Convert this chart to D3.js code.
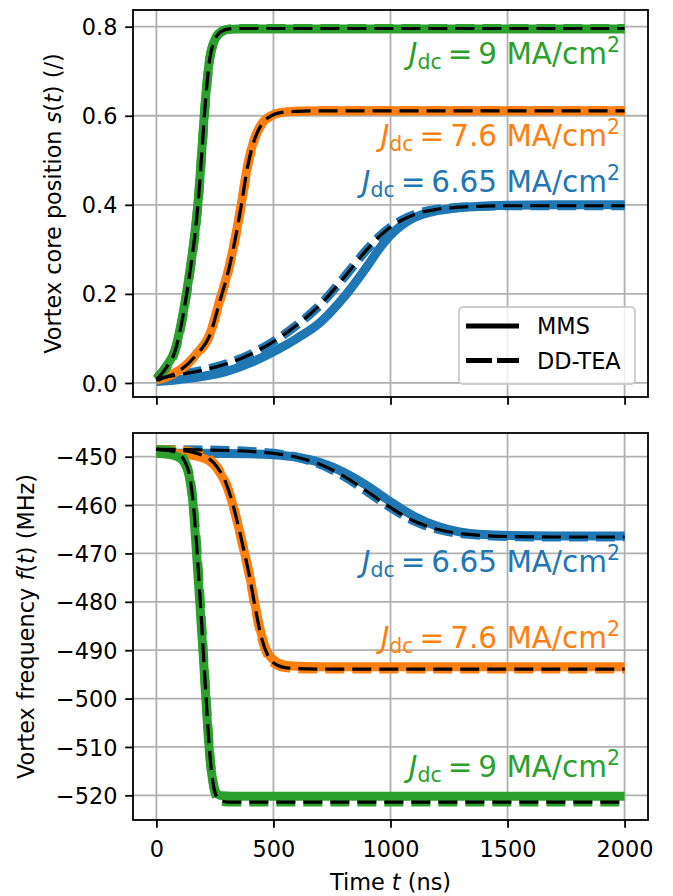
<!DOCTYPE html>
<html><head><meta charset="utf-8">
<script src="https://cdn.jsdelivr.net/npm/d3@7"></script>
<style>body{margin:0;background:#fff} svg{display:block} text{font-family:"DejaVu Sans",sans-serif}</style>
</head><body><svg id="c" width="673" height="896"></svg>
<script>
// ---------- data ----------
const xTicks = [0, 500, 1000, 1500, 2000];
const yTicksTop = [0.0, 0.2, 0.4, 0.6, 0.8];
const yTicksBot = [-450, -460, -470, -480, -490, -500, -510, -520];

const seriesNames = ["6.65", "7.6", "9"];
const seriesColors = ["#1f77b4", "#ff7f0e", "#2ca02c"];

// top panel: s(t)
const tGreenTop = [0, 40, 80, 115, 145, 165, 180, 195, 210, 228, 245, 260, 280, 310, 350, 450, 2000];
const sGreenMMS = [0.010, 0.036, 0.075, 0.160, 0.260, 0.340, 0.420, 0.530, 0.640, 0.730, 0.765, 0.780, 0.789, 0.794, 0.795, 0.795, 0.795];
const sGreenDD  = [0.008, 0.033, 0.072, 0.155, 0.255, 0.335, 0.415, 0.525, 0.635, 0.728, 0.765, 0.781, 0.790, 0.795, 0.796, 0.796, 0.796];

const tOrangeTop = [0, 50, 100, 170, 230, 270, 310, 340, 365, 390, 420, 450, 490, 530, 600, 700, 2000];
const sOrangeMMS = [0.007, 0.016, 0.029, 0.065, 0.112, 0.185, 0.260, 0.335, 0.410, 0.490, 0.550, 0.582, 0.600, 0.607, 0.610, 0.611, 0.611];
const sOrangeDD  = [0.006, 0.015, 0.028, 0.063, 0.110, 0.182, 0.257, 0.332, 0.407, 0.487, 0.548, 0.581, 0.600, 0.607, 0.610, 0.611, 0.611];

const tBlueTop = [0, 100, 200, 300, 400, 500, 600, 700, 800, 900, 950, 1000, 1050, 1100, 1200, 1300, 1400, 1500, 1700, 2000];
const sBlueMMS = [0.003, 0.008, 0.015, 0.026, 0.045, 0.070, 0.100, 0.136, 0.192, 0.262, 0.300, 0.332, 0.355, 0.371, 0.387, 0.394, 0.397, 0.399, 0.400, 0.400];
const sBlueDD  = [0.010, 0.019, 0.029, 0.043, 0.064, 0.093, 0.130, 0.176, 0.236, 0.300, 0.328, 0.350, 0.366, 0.378, 0.390, 0.395, 0.397, 0.398, 0.398, 0.398];

// bottom panel: f(t) in MHz
const tGreenBot = [0, 50, 90, 120, 140, 155, 170, 185, 200, 215, 230, 245, 260, 280, 320, 2000];
const fGreenMMS = [-449.3, -449.5, -450.0, -451.3, -454.0, -459.0, -469.0, -480.0, -491.0, -503.0, -513.0, -518.0, -519.7, -520.1, -520.2, -520.2];
const fGreenDD  = [-448.5, -448.7, -449.3, -450.8, -453.5, -458.5, -467.0, -478.0, -490.0, -502.0, -512.5, -518.3, -520.5, -521.2, -521.4, -521.4];

const tOrangeBot = [0, 100, 150, 200, 230, 260, 300, 335, 370, 400, 425, 450, 475, 500, 550, 600, 700, 2000];
const fOrangeMMS = [-449.3, -449.4, -449.7, -450.3, -451.0, -452.5, -456.0, -461.5, -468.5, -475.0, -481.5, -487.0, -490.5, -492.0, -493.1, -493.3, -493.4, -493.4];
const fOrangeDD  = [-448.5, -448.7, -449.0, -449.8, -450.6, -452.2, -455.8, -461.4, -468.6, -475.3, -482.0, -487.6, -491.0, -492.6, -493.6, -493.8, -493.9, -493.9];

const tBlueBot = [0, 200, 400, 500, 600, 700, 800, 900, 1000, 1100, 1200, 1300, 1400, 1500, 1700, 2000];
const fBlueMMS = [-449.3, -449.3, -449.4, -449.6, -450.1, -451.2, -453.2, -456.0, -459.3, -462.3, -464.4, -465.6, -466.1, -466.3, -466.4, -466.4];
const fBlueDD  = [-448.5, -448.6, -448.9, -449.3, -450.1, -451.6, -454.0, -457.2, -460.5, -463.3, -465.0, -465.9, -466.3, -466.5, -466.6, -466.6];

// ---------- drawing ----------
const svg = d3.select("#c");
const X0 = 133, X1 = 648;
const x = d3.scaleLinear().domain([-100, 2100]).range([X0, X1]);
const panels = [
  {top: 10, bottom: 397, y: d3.scaleLinear().domain([-0.0315, 0.8375]).range([397, 10]),
   ticks: yTicksTop, fmt: d3.format(".1f"), xlabels: false,
   series: [
     {t: tBlueTop, mms: sBlueMMS, dd: sBlueDD, c: 0},
     {t: tOrangeTop, mms: sOrangeMMS, dd: sOrangeDD, c: 1},
     {t: tGreenTop, mms: sGreenMMS, dd: sGreenDD, c: 2}
   ],
   labels: [{c: 2, yb: 64}, {c: 1, yb: 146}, {c: 0, yb: 192}],
   ylabel: [{t: "Vortex core position "}, {t: "s", i: 1}, {t: "("}, {t: "t", i: 1}, {t: ") (/)"}], ylx: 61},
  {top: 433, bottom: 820, y: d3.scaleLinear().domain([-525.1, -445.1]).range([820, 433]),
   ticks: yTicksBot, fmt: d => "\u2212" + Math.abs(d), xlabels: true,
   series: [
     {t: tBlueBot, mms: fBlueMMS, dd: fBlueDD, c: 0},
     {t: tOrangeBot, mms: fOrangeMMS, dd: fOrangeDD, c: 1},
     {t: tGreenBot, mms: fGreenMMS, dd: fGreenDD, c: 2}
   ],
   labels: [{c: 0, yb: 572}, {c: 1, yb: 648}, {c: 2, yb: 777}],
   ylabel: [{t: "Vortex frequency "}, {t: "f", i: 1}, {t: "("}, {t: "t", i: 1}, {t: ") (MHz)"}], ylx: 34}
];

const FS = 22.4, TICK = 7.8, PAD = 7.8, LW = 1.8;
const DASH = "19,8";

panels.forEach(p => {
  const g = svg.append("g");
  const y = p.y;
  // grid
  g.selectAll(".gx").data(xTicks).enter().append("line")
    .attr("x1", d => x(d)).attr("x2", d => x(d)).attr("y1", p.top).attr("y2", p.bottom)
    .attr("stroke", "#b0b0b0").attr("stroke-width", LW);
  g.selectAll(".gy").data(p.ticks).enter().append("line")
    .attr("x1", X0).attr("x2", X1).attr("y1", d => y(d)).attr("y2", d => y(d))
    .attr("stroke", "#b0b0b0").attr("stroke-width", LW);

  const line = (tt, vv) => d3.line().curve(d3.curveMonotoneX)
      .x((d, i) => x(tt[i])).y(d => y(d))(vv);
  // coloured thick lines
  p.series.forEach(s => {
    g.append("path").attr("d", line(s.t, s.mms)).attr("fill", "none")
      .attr("stroke", seriesColors[s.c]).attr("stroke-width", 9);
    g.append("path").attr("d", line(s.t, s.dd)).attr("fill", "none")
      .attr("stroke", seriesColors[s.c]).attr("stroke-width", 9).attr("stroke-dasharray", DASH);
  });
  p.series.forEach(s => {
    g.append("path").attr("d", line(s.t, s.dd)).attr("fill", "none")
      .attr("stroke", "#000").attr("stroke-width", 3.2).attr("stroke-dasharray", DASH);
  });

  // spines
  g.append("rect").attr("x", X0).attr("y", p.top).attr("width", X1 - X0).attr("height", p.bottom - p.top)
    .attr("fill", "none").attr("stroke", "#000").attr("stroke-width", LW);

  // x axis ticks
  const ax = d3.axisBottom(x).tickValues(xTicks).tickSize(TICK).tickPadding(PAD)
    .tickFormat(p.xlabels ? d3.format("d") : () => "");
  const gx = g.append("g").attr("transform", `translate(0,${p.bottom})`).call(ax);
  gx.select(".domain").remove();
  gx.selectAll("line").attr("stroke-width", LW);
  gx.selectAll("text").attr("font-size", FS).attr("font-family", "DejaVu Sans").attr("fill", "#000")
    .attr("dy", null).attr("y", TICK + PAD + 21);

  // y axis ticks
  const ay = d3.axisLeft(y).tickValues(p.ticks).tickSize(TICK).tickPadding(PAD).tickFormat(p.fmt);
  const gy = g.append("g").attr("transform", `translate(${X0},0)`).call(ay);
  gy.select(".domain").remove();
  gy.selectAll("line").attr("stroke-width", LW);
  gy.selectAll("text").attr("font-size", FS).attr("font-family", "DejaVu Sans").attr("fill", "#000")
    .attr("dy", "0.36em");

  // y label
  const yl = g.append("text").attr("transform", `translate(${p.ylx},${(p.top + p.bottom) / 2}) rotate(-90)`)
    .attr("text-anchor", "middle").attr("font-size", FS);
  p.ylabel.forEach(part => {
    yl.append("tspan").text(part.t).attr("font-style", part.i ? "italic" : null);
  });

  // series annotations
  p.labels.forEach(l => {
    const t = g.append("text").attr("x", 620).attr("y", l.yb).attr("text-anchor", "end")
      .attr("font-size", 29.5).attr("fill", seriesColors[l.c]);
    t.append("tspan").attr("font-style", "italic").text("J");
    t.append("tspan").attr("font-size", 20.5).attr("dy", 5).text("dc");
    t.append("tspan").attr("dy", -5).text("\u2009=\u2009" + seriesNames[l.c] + " MA/cm");
    t.append("tspan").attr("font-size", 20.5).attr("dy", -12).text("2");
  });
});

// legend (top panel)
const lg = svg.append("g");
lg.append("rect").attr("x", 459).attr("y", 307).attr("width", 176).attr("height", 77).attr("rx", 4)
  .attr("fill", "#fff").attr("fill-opacity", 0.8).attr("stroke", "#cccccc").attr("stroke-width", 1.8);
const legendItems = [{name: "MMS", dash: null, y: 326}, {name: "DD-TEA", dash: "26,5", y: 360.5}];
legendItems.forEach(it => {
  lg.append("line").attr("x1", 466).attr("x2", 519).attr("y1", it.y).attr("y2", it.y)
    .attr("stroke", "#000").attr("stroke-width", 5).attr("stroke-dasharray", it.dash);
  lg.append("text").attr("x", 537).attr("y", it.y + 8.2).attr("font-size", FS).text(it.name);
});

// x label
const xl = svg.append("text").attr("x", (X0 + X1) / 2).attr("y", 890).attr("text-anchor", "middle").attr("font-size", FS);
xl.append("tspan").text("Time ");
xl.append("tspan").attr("font-style", "italic").text("t");
xl.append("tspan").text(" (ns)");
</script></body></html>
